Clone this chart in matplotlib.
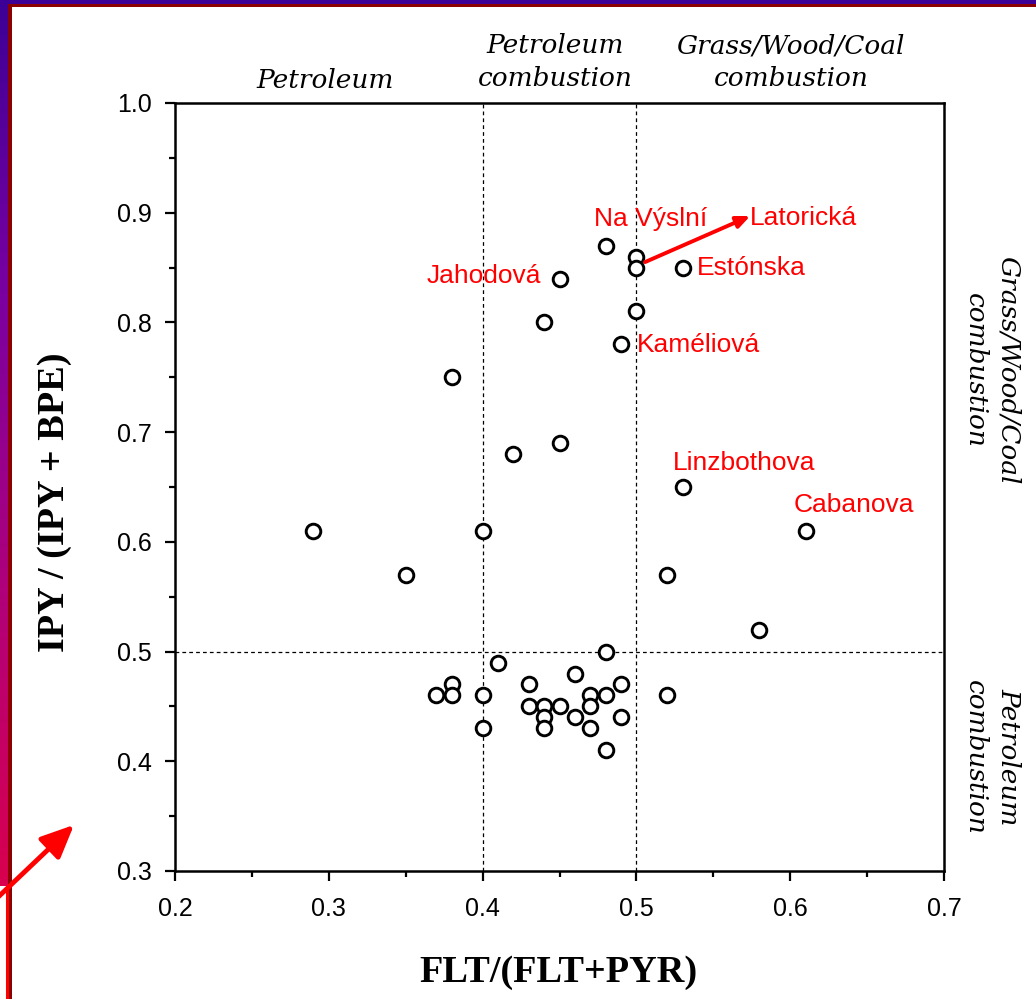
import numpy as np
import matplotlib
matplotlib.use("Agg")
import matplotlib.pyplot as plt
from matplotlib.patches import FancyArrowPatch
from matplotlib.ticker import MultipleLocator
from matplotlib.colors import LinearSegmentedColormap

# ---- data ----
flt_ratio = [0.29, 0.35, 0.38, 0.40, 0.42, 0.45, 0.44, 0.45, 0.48, 0.50, 0.50, 0.50,
             0.49, 0.53, 0.53, 0.61, 0.52, 0.58,
             0.48, 0.41, 0.38, 0.37, 0.38, 0.40, 0.40, 0.43, 0.43, 0.44, 0.44, 0.44,
             0.45, 0.46, 0.46, 0.47, 0.47, 0.47, 0.48, 0.48, 0.49, 0.49, 0.52]
ipy_ratio = [0.61, 0.57, 0.75, 0.61, 0.68, 0.69, 0.80, 0.84, 0.87, 0.86, 0.85, 0.81,
             0.78, 0.85, 0.65, 0.61, 0.57, 0.52,
             0.50, 0.49, 0.47, 0.46, 0.46, 0.46, 0.43, 0.47, 0.45, 0.45, 0.44, 0.43,
             0.45, 0.48, 0.44, 0.46, 0.45, 0.43, 0.46, 0.41, 0.47, 0.44, 0.46]

site_names = ["Na Výslní", "Latorická", "Estónska", "Jahodová", "Kaméliová", "Linzbothova", "Cabanova"]
site_x = [0.509, 0.574, 0.539, 0.438, 0.5005, 0.524, 0.602]
site_y = [0.894, 0.895, 0.850, 0.842, 0.779, 0.672, 0.634]
site_ha = ["center", "left", "left", "right", "left", "left", "left"]

x_ticks = [0.2, 0.3, 0.4, 0.5, 0.6, 0.7]
y_ticks = [0.3, 0.4, 0.5, 0.6, 0.7, 0.8, 0.9, 1.0]

W, H = 1036, 999
fig = plt.figure(figsize=(W / 100, H / 100), dpi=100)
fig.patch.set_facecolor("white")

# ---- background decoration (pixel coordinates) ----
bg = fig.add_axes([0, 0, 1, 1], zorder=0)
bg.axis("off")
grad = np.linspace(0, 1, 256).reshape(-1, 1)
cmap = LinearSegmentedColormap.from_list("g", ["#3d0096", "#7a00a0", "#b0007a", "#d8004e"])
bg.imshow(grad, cmap=cmap, extent=[0, 8, 886, 0], aspect="auto", zorder=1)
bg.add_patch(plt.Rectangle((0, 0), W, 3.5, color="#3d0096", zorder=2, lw=0))
bg.add_patch(plt.Rectangle((8, 3.5), W - 8, 3.5, color="#8b0000", zorder=3, lw=0))
bg.add_patch(plt.Rectangle((8, 3.5), 4, H, color="#8b0000", zorder=3, lw=0))
bg.plot([6.5, 6.5], [886, H], color="red", lw=2.2, zorder=4, solid_capstyle="butt")
bg.add_patch(FancyArrowPatch((-5, 900), (76, 823), arrowstyle="-|>,head_length=20,head_width=9",
                             color="red", lw=3.5, mutation_scale=1, zorder=5))
bg.set_xlim(0, W)
bg.set_ylim(H, 0)

# ---- main axes ----
ax = fig.add_axes([175 / W, 1 - 871 / H, (944 - 175) / W, (871 - 103) / H], zorder=1)
ax.set_facecolor("none")
ax.set_xlim(0.2, 0.7)
ax.set_ylim(0.3, 1.0)

ax.axvline(0.4, color="black", lw=0.9, ls=(0, (3, 2.5)), zorder=1)
ax.axvline(0.5, color="black", lw=0.9, ls=(0, (3, 2.5)), zorder=1)
ax.axhline(0.5, color="black", lw=0.9, ls=(0, (3, 2.5)), zorder=1)

ax.plot(flt_ratio, ipy_ratio, "o", ms=10.5, mfc="white", mec="black", mew=2.1, zorder=3, ls="none")

for name, sx, sy, ha in zip(site_names, site_x, site_y, site_ha):
    ax.text(sx, sy, name, color="red", fontsize=19, ha=ha, va="center",
            family="Liberation Sans", zorder=4)

ax.annotate("", xy=(0.574, 0.897), xytext=(0.5056, 0.855),
            arrowprops=dict(arrowstyle="-|>,head_length=0.8,head_width=0.35", color="red", lw=2.8,
                            shrinkA=0, shrinkB=0), zorder=4)

ax.set_xticks(x_ticks)
ax.set_yticks(y_ticks)
ax.set_xticklabels([f"{v:.1f}" for v in x_ticks])
ax.set_yticklabels([f"{v:.1f}" for v in y_ticks])
ax.xaxis.set_minor_locator(MultipleLocator(0.05))
ax.yaxis.set_minor_locator(MultipleLocator(0.05))
ax.tick_params(which="both", direction="out", width=1.6, top=False, right=False)
ax.tick_params(which="major", length=7.5, labelsize=18)
ax.tick_params(axis="x", which="major", pad=11)
ax.tick_params(axis="y", which="major", pad=9)
ax.tick_params(which="minor", length=4)
for lab in ax.get_xticklabels() + ax.get_yticklabels():
    lab.set_family("Liberation Sans")
for sp in ax.spines.values():
    sp.set_linewidth(1.8)

# ---- axis titles ----
fig.text(558 / W, 1 - 972 / H, "FLT/(FLT+PYR)", fontsize=27.5, fontweight="bold",
         family="Liberation Serif", ha="center", va="center")
fig.text(55 / W, 1 - 502 / H, "IPY / (IPY + BPE)", fontsize=27.5, fontweight="bold",
         family="Liberation Serif", ha="center", va="center", rotation=90)

# ---- region annotations ----
it = dict(fontsize=19, style="italic", family="DejaVu Serif", ha="center", va="center",
          linespacing=1.4)
fig.text(325 / W, 1 - 80 / H, "Petroleum", **it)
fig.text(555 / W, 1 - 62 / H, "Petroleum\ncombustion", **it)
fig.text(791 / W, 1 - 62 / H, "Grass/Wood/Coal\ncombustion", **it)
fig.text(992 / W, 1 - 370 / H, "Grass/Wood/Coal\ncombustion", rotation=270, **it)
fig.text(992 / W, 1 - 757 / H, "Petroleum\ncombustion", rotation=270, **it)

fig.savefig("out.png", dpi=100)
